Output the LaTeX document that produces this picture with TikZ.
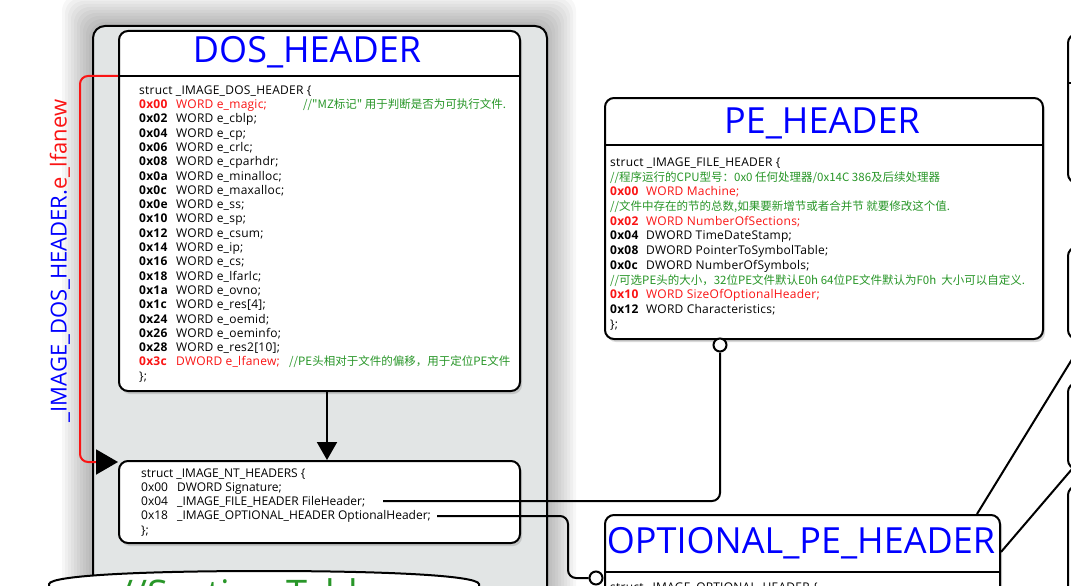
\documentclass[tikz,border=0pt]{standalone}
\usepackage{fontspec}
\setmainfont{Open Sans}
\newfontfamily\codefont[LetterSpace=2]{Open Sans}
\newfontfamily\cjk{Noto Sans CJK SC}
\usepackage{tikz}
\usetikzlibrary{arrows.meta,positioning,shadows,calc}
\usepackage{xcolor}
\definecolor{hexred}{RGB}{250,20,20}
\definecolor{notegreen}{RGB}{40,150,40}
\definecolor{headblue}{RGB}{0,0,255}
\definecolor{panelgray}{RGB}{226,229,229}
\newcommand{\redtext}[1]{\textcolor{hexred}{#1}}
\newcommand{\notetext}[1]{{\cjk\fontsize{11.5}{14}\selectfont\color{notegreen}#1}}
\newcommand{\fullrow}[1]{\multicolumn{2}{@{}l@{}}{#1}}

\begin{document}
\begin{tikzpicture}[x=1pt,y=-1pt,
  card/.style={draw,line width=2pt,rounded corners=9pt,fill=white,inner sep=0pt,anchor=north west,
    drop shadow={shadow xshift=2pt,shadow yshift=-3pt,opacity=.3}},
  headtitle/.style={text=headblue,font=\fontsize{36}{36}\selectfont,anchor=base,inner sep=0pt},
  codebody/.style={anchor=north west,inner sep=0pt},
  sepline/.style={line width=2pt},
  link/.style={line width=2pt,rounded corners=8pt},
  port/.style={circle,draw,line width=2pt,fill=white,minimum size=13pt,inner sep=0pt}]
\useasboundingbox (0,0) rectangle (1071,586);
\clip (0,0) rectangle (1071,586);

\foreach \s in {3,6,...,30}
  \fill[black,opacity=.03,rounded corners=16pt] (92-\s,25-\s) rectangle (546+\s,660);
\node[draw,line width=2pt,rounded corners=12pt,fill=panelgray,anchor=north west,
  minimum width=454pt,minimum height=640pt] (panel) at (92,25) {};

\node[card,minimum width=401pt,minimum height=360pt] (dos) at (118,30) {};
\node[card,minimum width=401pt,minimum height=82pt] (nt) at (118,460) {};
\node[card,minimum width=438pt,minimum height=241pt] (pe) at (604,97) {};
\node[card,minimum width=395pt,minimum height=120pt] (opt) at (604,514) {};
\node[card,minimum width=200pt,minimum height=149pt] (rboxa) at (1067,33) {};
\node[card,minimum width=200pt,minimum height=92pt] (rboxb) at (1067,246) {};
\node[card,minimum width=200pt,minimum height=86pt] (rboxc) at (1067,382) {};
\node[card,minimum width=200pt,minimum height=150pt] (rboxd) at (1067,485) {};

\coordinate (dsep) at (0,76);
\coordinate (psep) at (0,145);
\coordinate (osep) at (0,572);
\coordinate (rsep) at (0,83);
\draw[sepline] (dos.west |- dsep) -- (dos.east |- dsep);
\draw[sepline] (pe.west |- psep) -- (pe.east |- psep);
\draw[sepline] (opt.west |- osep) -- (opt.east |- osep);
\draw[sepline] (rboxa.west |- rsep) -- (rboxa.east |- rsep);

\draw[line width=2pt,fill=white] (49,640) -- (49,584) .. controls (51,575) and (150,571) .. (264,571)
  .. controls (378,571) and (477,575) .. (479,584) -- (479,640);
\node[anchor=base west,inner sep=0pt,text=notegreen,font=\fontsize{38}{38}\selectfont] (sectitle) at (119,607) {//Section Table};

\node[headtitle] (dostitle) at (307,63) {DOS\_HEADER};
\node[headtitle] (petitle) at (822,133) {PE\_HEADER};
\node[headtitle] (opttitle) at (801,553) {OPTIONAL\_PE\_HEADER};

\node[codebody,font=\codefont\fontsize{12}{14.3}\selectfont] (dosbody) at (139,84) {%
\begin{tabular}{@{}p{37pt}@{}l@{}}
\fullrow{struct \_IMAGE\_DOS\_HEADER \{}\\
\redtext{\textbf{0x00}} & \makebox[127pt][l]{\redtext{WORD e\_magic;}}\notetext{//"MZ标记" 用于判断是否为可执行文件.}\\
\textbf{0x02} & WORD e\_cblp;\\
\textbf{0x04} & WORD e\_cp;\\
\textbf{0x06} & WORD e\_crlc;\\
\textbf{0x08} & WORD e\_cparhdr;\\
\textbf{0x0a} & WORD e\_minalloc;\\
\textbf{0x0c} & WORD e\_maxalloc;\\
\textbf{0x0e} & WORD e\_ss;\\
\textbf{0x10} & WORD e\_sp;\\
\textbf{0x12} & WORD e\_csum;\\
\textbf{0x14} & WORD e\_ip;\\
\textbf{0x16} & WORD e\_cs;\\
\textbf{0x18} & WORD e\_lfarlc;\\
\textbf{0x1a} & WORD e\_ovno;\\
\textbf{0x1c} & WORD e\_res[4];\\
\textbf{0x24} & WORD e\_oemid;\\
\textbf{0x26} & WORD e\_oeminfo;\\
\textbf{0x28} & WORD e\_res2[10];\\
\redtext{\textbf{0x3c}} & \makebox[113pt][l]{\redtext{DWORD e\_lfanew;}}\notetext{//PE头相对于文件的偏移，用于定位PE文件}\\
\fullrow{\};}
\end{tabular}};

\node[codebody,font=\fontsize{12}{14.25}\selectfont] (ntbody) at (141,467) {%
\begin{tabular}{@{}p{36pt}@{}l@{}}
\fullrow{struct \_IMAGE\_NT\_HEADERS \{}\\
0x00 & DWORD Signature;\\
0x04 & \_IMAGE\_FILE\_HEADER FileHeader;\\
0x18 & \_IMAGE\_OPTIONAL\_HEADER OptionalHeader;\\
\fullrow{\};}
\end{tabular}};

\node[codebody,font=\codefont\fontsize{12}{14.7}\selectfont] (pebody) at (610,156) {%
\begin{tabular}{@{}p{36pt}@{}l@{}}
\fullrow{struct \_IMAGE\_FILE\_HEADER \{}\\
\fullrow{\notetext{//程序运行的CPU型号：0x0 任何处理器/0x14C 386及后续处理器}}\\
\redtext{\textbf{0x00}} & \redtext{WORD Machine;}\\
\fullrow{\notetext{//文件中存在的节的总数,如果要新增节或者合并节 就要修改这个值.}}\\
\redtext{\textbf{0x02}} & \redtext{WORD NumberOfSections;}\\
\textbf{0x04} & DWORD TimeDateStamp;\\
\textbf{0x08} & DWORD PointerToSymbolTable;\\
\textbf{0x0c} & DWORD NumberOfSymbols;\\
\fullrow{\notetext{//可选PE头的大小，32位PE文件默认E0h 64位PE文件默认为F0h\ \ 大小可以自定义.}}\\
\redtext{\textbf{0x10}} & \redtext{WORD SizeOfOptionalHeader;}\\
\textbf{0x12} & WORD Characteristics;\\
\fullrow{\};}
\end{tabular}};

\node[anchor=base west,inner sep=0pt,font=\codefont\fontsize{12}{14}\selectfont] (optbody) at (610,591) {struct \_IMAGE\_OPTIONAL\_HEADER \{};

\node[rotate=90,inner sep=0pt,font=\fontsize{22}{22}\selectfont] (lfalabel) at (60,261)
  {\textcolor{headblue}{\_IMAGE\_DOS\_HEADER.}\textcolor{hexred}{e\_lfanew}};

\node[port] (fhport) at (720,345) {};
\node[port] (ohport) at (596,578) {};
\coordinate (fhend) at (383,501);
\coordinate (ohend) at (437,516);
\coordinate (lfatip) at ($(nt.north west)+(0,2)$);
\coordinate (offc) at (1090,330);
\coordinate (offd) at (1090,448);

\draw[link,-{Triangle[length=18pt,width=20pt]}] ($(dos.south)+(7.5,0)$) -- ($(nt.north)+(7.5,0)$);
\draw[link,hexred,-{Triangle[length=22pt,width=25pt,color=black]}] (dos.west |- dsep) -- ++(-38,0) |- (lfatip);
\draw[link] (fhend) -| (fhport.south);
\draw[link] (ohend) -- ++(131,0) |- (ohport.west);
\draw[line width=2pt] ($(opt.north west)+(373,0)$) -- (offc);
\draw[line width=2pt] (opt.east |- 0,552) -- (offd);
\end{tikzpicture}
\end{document}
